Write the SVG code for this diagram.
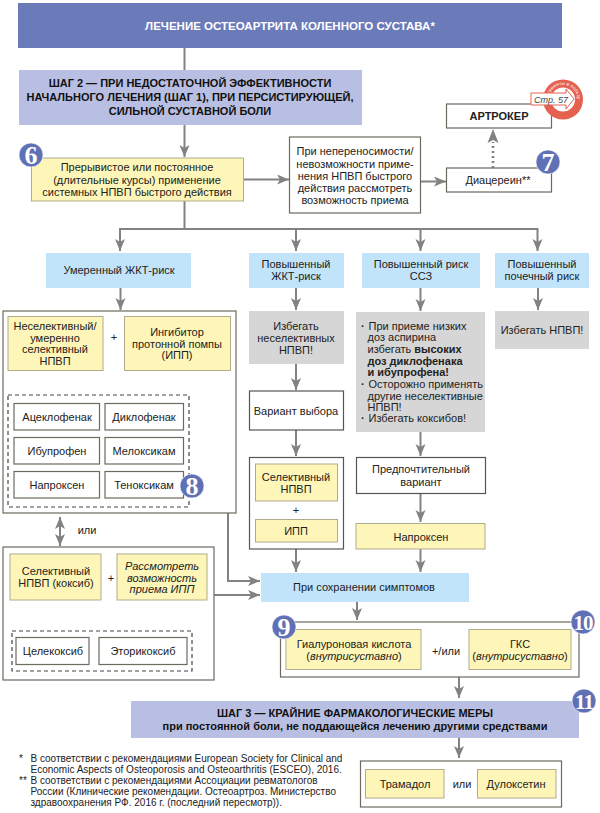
<svg xmlns="http://www.w3.org/2000/svg" width="600" height="813" viewBox="0 0 600 813">
<style>
text{font-family:"Liberation Sans",Arial,sans-serif;font-size:11px;fill:#222;text-anchor:middle}
.b{font-weight:bold}.i{font-style:italic}
.s{text-anchor:start}
.hd{font-weight:bold;font-size:11px;fill:#111}
.note{font-size:10px;text-anchor:start}
.y{fill:#fdf6b8;stroke:#b0ac8c;stroke-width:1}
.w{fill:#fff;stroke:#6f6a60;stroke-width:1.2}
.w2{fill:#fff;stroke:#555;stroke-width:1.2}
.lb{fill:#c1e4fa}.g{fill:#d6d6d6}
.d{fill:none;stroke:#444;stroke-width:1.2;stroke-dasharray:4 3}
.c{fill:none;stroke:#828282;stroke-width:2}
.cn{fill:#5f70b5;stroke:#fff;stroke-width:.6}
.cnt{font-family:"Liberation Serif",serif;font-weight:bold;font-size:26px;fill:#fff}
.cnt2{font-size:21px;letter-spacing:-1px}
</style>
<defs>
<marker id="a" markerUnits="userSpaceOnUse" markerWidth="14" markerHeight="12" refX="12" refY="5" orient="auto-start-reverse"><path d="M0 0L12 5L0 10L3 5Z" fill="#828282"/></marker>
<path id="ring" d="M548.500 99.500A14.500 14.500 0 0 1 577.500 99.500"/>
</defs>

<g id="connectors">
<path class="c" d="M184.500 48V70"/>
<path class="c" d="M184.500 125V157" marker-end="url(#a)"/>
<path class="c" d="M243 179.500H289" marker-end="url(#a)"/>
<path class="c" d="M420 181.500H446" marker-end="url(#a)"/>
<path class="c" d="M493 168V142" style="stroke-width:2.600px;stroke-dasharray:2 3"/>
<path class="c" d="M184.500 201V229"/>
<path class="c" d="M120 251V229H537.500V251" marker-end="url(#a)"/>
<path class="c" d="M120 229V251" marker-end="url(#a)"/>
<path class="c" d="M296 229V251" marker-end="url(#a)"/>
<path class="c" d="M420.500 229V251" marker-end="url(#a)"/>
<path class="c" d="M120.500 288V310" marker-end="url(#a)"/>
<path class="c" d="M296 288V310" marker-end="url(#a)"/>
<path class="c" d="M420.500 288V311" marker-end="url(#a)"/>
<path class="c" d="M538 288V310" marker-end="url(#a)"/>
<path class="c" d="M60 371V393" marker-end="url(#a)"/>
<path class="c" d="M60 517V546" marker-start="url(#a)" marker-end="url(#a)"/>
<path class="c" d="M60 598V629" marker-end="url(#a)"/>
<path class="c" d="M228 513V581H260" marker-end="url(#a)"/>
<path class="c" d="M214 595H260" marker-end="url(#a)"/>
<path class="c" d="M296 364V390" marker-end="url(#a)"/>
<path class="c" d="M296 430V456" marker-end="url(#a)"/>
<path class="c" d="M296 549V572" marker-end="url(#a)"/>
<path class="c" d="M420.500 432V456" marker-end="url(#a)"/>
<path class="c" d="M420.500 493V522" marker-end="url(#a)"/>
<path class="c" d="M420.500 549V572" marker-end="url(#a)"/>
<path class="c" d="M357 602V620" marker-end="url(#a)"/>
<path class="c" d="M459 677V698" marker-end="url(#a)"/>
<path class="c" d="M459 738V758" marker-end="url(#a)"/>
<path d="M493 129L498.500 143L493 140L487.500 143Z" fill="#828282"/>
</g>

<g id="title"><rect x="18" y="3" width="544" height="45" fill="#6b7ab8"/><text class="b" x="290" y="30" style="fill:#fff;font-size:11.500px">ЛЕЧЕНИЕ ОСТЕОАРТРИТА КОЛЕННОГО СУСТАВА*</text></g>

<g id="step2"><rect x="19" y="70" width="343" height="55" fill="#b9bfe2"/>
<text class="hd" x="190" y="87">ШАГ 2 — ПРИ НЕДОСТАТОЧНОЙ ЭФФЕКТИВНОСТИ</text>
<text class="hd" x="190" y="101">НАЧАЛЬНОГО ЛЕЧЕНИЯ (ШАГ 1), ПРИ ПЕРСИСТИРУЮЩЕЙ,</text>
<text class="hd" x="190" y="115">СИЛЬНОЙ СУСТАВНОЙ БОЛИ</text></g>

<g id="n6"><rect class="y" x="31.500" y="158" width="212" height="43"/>
<text x="137" y="171">Прерывистое или постоянное</text><text x="137" y="184">(длительные курсы) применение</text><text x="137" y="196">системных НПВП быстрого действия</text>
<circle class="cn" cx="31" cy="155" r="12"/><text class="cnt" x="31" y="164">6</text></g>

<g id="alt"><rect class="w" x="289.500" y="137" width="131" height="76"/>
<text x="355" y="155">При непереносимости/</text><text x="355" y="168">невозможности приме-</text><text x="355" y="180">нения НПВП быстрого</text><text x="355" y="192">действия рассмотреть</text><text x="355" y="204">возможность приема</text></g>

<g id="artroker"><rect class="w" x="446.500" y="104" width="105" height="24"/><text class="b" x="499" y="120">АРТРОКЕР</text></g>

<g id="stamp"><circle cx="563" cy="99.500" r="20" fill="#e5604f"/><circle cx="563" cy="99.500" r="12" fill="#fff"/>
<text style="font-size:4.800px;fill:#fff"><textPath href="#ring" startOffset="50%">Аргументы в пользу</textPath></text>
<path d="M531 93H566V89L574 99L566 109V105H531Z" fill="#fff" stroke="#e5604f" stroke-width="1"/>
<text class="i" x="551" y="103" style="font-size:9px;fill:#444">Стр. 57</text></g>

<g id="n7"><rect class="w" x="446.500" y="168" width="105" height="24"/><text x="498" y="184">Диацереин**</text>
<circle class="cn" cx="548" cy="162" r="12"/><text class="cnt" x="548" y="171">7</text></g>

<g id="r1"><rect class="lb" x="46" y="253" width="145" height="35"/><text x="119" y="274">Умеренный ЖКТ-риск</text></g>
<g id="r2"><rect class="lb" x="249" y="253" width="95" height="35"/><text x="296" y="268">Повышенный</text><text x="296" y="280">ЖКТ-риск</text></g>
<g id="r3"><rect class="lb" x="362" y="253" width="118" height="35"/><text x="421" y="268">Повышенный риск</text><text x="421" y="280">ССЗ</text></g>
<g id="r4"><rect class="lb" x="495" y="253" width="94" height="35"/><text x="542" y="268">Повышенный</text><text x="542" y="280">почечный риск</text></g>

<g id="left1"><rect class="w" x="3" y="311" width="233" height="202"/>
<rect class="y" x="8" y="316.500" width="95" height="54"/>
<text x="55" y="330">Неселективный/</text><text x="55" y="342">умеренно</text><text x="55" y="353">селективный</text><text x="55" y="365">НПВП</text>
<text x="114" y="341">+</text>
<rect class="y" x="124.500" y="316.500" width="106" height="54"/>
<text x="177" y="336">Ингибитор</text><text x="177" y="348">протонной помпы</text><text x="177" y="359">(ИПП)</text>
<rect class="d" x="8" y="395" width="181" height="112"/>
<rect class="w" x="14" y="403.500" width="85.500" height="26.500"/><text x="57" y="421">Ацеклофенак</text>
<rect class="w" x="105" y="403.500" width="78.500" height="26.500"/><text x="144" y="421">Диклофенак</text>
<rect class="w" x="14" y="437.500" width="85.500" height="26.500"/><text x="57" y="455">Ибупрофен</text>
<rect class="w" x="105" y="437.500" width="78.500" height="26.500"/><text x="144" y="455">Мелоксикам</text>
<rect class="w" x="14" y="471.500" width="85.500" height="26.500"/><text x="57" y="489">Напроксен</text>
<rect class="w" x="105" y="471.500" width="78.500" height="26.500"/><text x="144" y="489">Теноксикам</text>
<circle class="cn" cx="192" cy="486" r="12"/><text class="cnt" x="192" y="495">8</text></g>

<text x="87" y="534">или</text>

<g id="left2"><rect class="w" x="3" y="547" width="211" height="133"/>
<rect class="y" x="10" y="554" width="91" height="46"/>
<text x="56" y="575">Селективный</text><text x="56" y="587">НПВП (коксиб)</text>
<text x="111" y="582">+</text>
<rect class="y" x="117" y="554" width="90" height="46"/>
<text class="i" x="162" y="570">Рассмотреть</text><text class="i" x="162" y="582">возможность</text><text class="i" x="162" y="593">приема ИПП</text>
<rect class="d" x="12" y="631" width="180" height="40"/>
<rect class="w" x="16" y="637.500" width="73" height="27"/><text x="53" y="655">Целекоксиб</text>
<rect class="w" x="99" y="637.500" width="88" height="27"/><text x="143" y="655">Эторикоксиб</text></g>

<g id="g1"><rect class="g" x="249" y="311" width="95" height="53"/><text x="296" y="330">Избегать</text><text x="296" y="342">неселективных</text><text x="296" y="354">НПВП!</text></g>
<g id="v1"><rect class="w2" x="249.500" y="391" width="94" height="39"/><text x="296" y="415">Вариант выбора</text></g>
<g id="v2"><rect class="w2" x="249.500" y="457.500" width="94" height="91.500"/>
<rect class="y" x="255.500" y="464" width="82" height="37"/><text x="296" y="481">Селективный</text><text x="296" y="493">НПВП</text>
<text x="296" y="514">+</text>
<rect class="y" x="255.500" y="519.500" width="82" height="22.500"/><text x="296" y="535">ИПП</text></g>

<g id="g2"><rect class="g" x="356" y="312" width="129" height="120"/>
<text class="s b" x="361" y="330">·</text>
<text class="s" x="368.500" y="330">При приеме низких</text>
<text class="s" x="367.500" y="341">доз аспирина</text>
<text class="s" x="367.500" y="353">избегать <tspan class="b">высоких</tspan></text>
<text class="s b" x="367.500" y="365">доз диклофенака</text>
<text class="s b" x="367.500" y="376">и ибупрофена!</text>
<text class="s b" x="361" y="388">·</text>
<text class="s" x="368.500" y="388">Осторожно применять</text>
<text class="s" x="367.500" y="400">другие неселективные</text>
<text class="s" x="367.500" y="411">НПВП!</text>
<text class="s b" x="361" y="422">·</text>
<text class="s" x="368.500" y="422">Избегать коксибов!</text>
</g>
<g id="pv"><rect class="w2" x="356.500" y="457.500" width="129" height="36"/><text x="421" y="473">Предпочтительный</text><text x="421" y="486">вариант</text></g>
<g id="nap"><rect class="y" x="356" y="523.500" width="129" height="25.500"/><text x="421" y="541">Напроксен</text></g>
<g id="g3"><rect class="g" x="495" y="311" width="94" height="38"/><text x="542" y="334">Избегать НПВП!</text></g>

<g id="persist"><rect class="lb" x="261" y="573" width="208" height="29"/><text x="364" y="591">При сохранении симптомов</text></g>

<g id="inj"><rect class="w" x="280.500" y="622" width="298.500" height="55"/>
<rect class="y" x="286" y="629.500" width="135" height="40"/><text x="354" y="648">Гиалуроновая кислота</text><text x="354" y="660">(<tspan class="i">внутрисуставно</tspan>)</text>
<text x="446" y="655">+/или</text>
<rect class="y" x="469" y="629.500" width="102" height="40"/><text x="520" y="648">ГКС</text><text x="520" y="660">(<tspan class="i">внутрисуставно</tspan>)</text>
<circle class="cn" cx="284" cy="627" r="12"/><text class="cnt" x="284" y="636">9</text>
<circle class="cn" cx="583" cy="622" r="12"/><text class="cnt cnt2" x="583" y="629.500">10</text></g>

<g id="step3"><rect x="131" y="701" width="448" height="37" fill="#b9bfe2"/>
<text class="hd" x="355" y="717">ШАГ 3 — КРАЙНИЕ ФАРМАКОЛОГИЧЕСКИЕ МЕРЫ</text>
<text class="hd" x="355" y="730">при постоянной боли, не поддающейся лечению другими средствами</text>
<circle class="cn" cx="584" cy="701" r="12"/><text class="cnt cnt2" x="584" y="708.500">11</text></g>

<g id="last"><rect class="w" x="360.500" y="761" width="201" height="46"/>
<rect class="y" x="365.500" y="769.500" width="78.500" height="28.500"/><text x="405" y="788">Трамадол</text>
<text x="462" y="788">или</text>
<rect class="y" x="477.500" y="769.500" width="78.500" height="28.500"/><text x="516" y="788">Дулоксетин</text></g>

<g id="notes">
<text class="note" x="19" y="762">*</text>
<text class="note" x="30.500" y="762">В соответствии с рекомендациями European Society for Clinical and</text>
<text class="note" x="30.500" y="773">Economic Aspects of Osteoporosis and Osteoarthritis (ESCEO), 2016.</text>
<text class="note" x="19" y="784">**</text>
<text class="note" x="30.500" y="784">В соответствии с рекомендациями Ассоциации ревматологов</text>
<text class="note" x="30.500" y="795">России (Клинические рекомендации. Остеоартроз. Министерство</text>
<text class="note" x="30.500" y="806">здравоохранения РФ. 2016 г. (последний пересмотр)).</text>
</g>
</svg>
